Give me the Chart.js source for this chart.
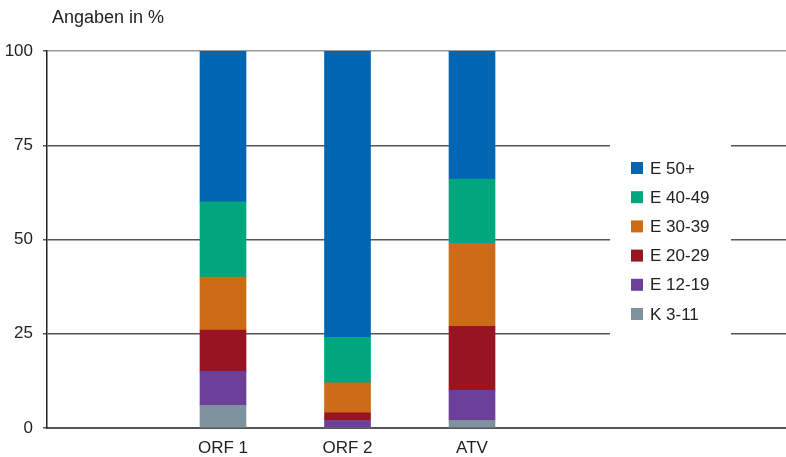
<!DOCTYPE html>
<html>
<head>
<meta charset="utf-8">
<script src="https://cdn.jsdelivr.net/npm/chart.js@4/dist/chart.umd.min.js"></script>
<style>
html,body{margin:0;padding:0;background:#fff;}
#wrap{width:786px;height:457px;position:relative;}
</style>
</head>
<body>
<div id="wrap"><canvas id="c" width="786" height="457"></canvas></div>
<script>
const categories = ['ORF 1', 'ORF 2', 'ATV'];
const seriesNames = ['K 3-11', 'E 12-19', 'E 20-29', 'E 30-39', 'E 40-49', 'E 50+'];
const seriesColors = ['#7f939e', '#6c3f99', '#981422', '#cc6c17', '#00a77e', '#0066b3'];
const k3_11   = [6, 0, 2];
const e12_19  = [9, 2, 8];
const e20_29  = [11, 2, 17];
const e30_39  = [14, 8, 22];
const e40_49  = [20, 12, 17];
const e50plus = [40, 76, 34];
const yTicks = [0, 25, 50, 75, 100];
const unitLabel = 'Angaben in %';

const seriesValues = [k3_11, e12_19, e20_29, e30_39, e40_49, e50plus];
const FONT = '"Liberation Sans", Arial, Helvetica, sans-serif';

const datasets = seriesNames.map((name, i) => ({
  label: name,
  data: seriesValues[i].map((v, j) => ({x: j + 1, y: v})),
  backgroundColor: seriesColors[i],
  borderWidth: 0,
  barThickness: 46
}));

const overlay = {
  id: 'overlay',
  afterDraw(chart) {
    const ctx = chart.ctx;
    ctx.save();
    ctx.fillStyle = '#222';
    ctx.font = '18px ' + FONT;
    ctx.textBaseline = 'alphabetic';
    ctx.textAlign = 'left';
    ctx.fillText(unitLabel, 52, 23);
    ctx.font = '17px ' + FONT;
    const y = chart.scales.y;
    const top = y.getPixelForValue(78);
    const bottom = y.getPixelForValue(22);
    ctx.fillStyle = '#fff';
    ctx.fillRect(610, top, 121, bottom - top);
    const n = seriesNames.length;
    for (let k = 0; k < n; k++) {
      const i = n - 1 - k;
      const cy = 168 + k * 29.2;
      ctx.fillStyle = seriesColors[i];
      ctx.fillRect(631, cy - 6, 12, 12);
      ctx.fillStyle = '#222';
      ctx.textBaseline = 'middle';
      ctx.fillText(seriesNames[i], 650, cy + 1);
    }
    ctx.restore();
  }
};

new Chart(document.getElementById('c'), {
  type: 'bar',
  data: { datasets },
  options: {
    responsive: false,
    animation: false,
    layout: { padding: { top: 51, right: 0, left: 0, bottom: 0 } },
    plugins: { legend: { display: false }, tooltip: { enabled: false }, title: { display: false } },
    scales: {
      x: {
        type: 'linear',
        stacked: true,
        offset: false,
        bounds: 'ticks',
        min: -0.4137,
        max: 5.522,
        afterFit(s) { s.height = 29; },
        afterBuildTicks(s) { s.ticks = categories.map((c, i) => ({ value: i + 1 })); },
        grid: { display: false, drawTicks: false, offset: false },
        border: { display: true, color: '#555', width: 2 },
        ticks: {
          autoSkip: false,
          maxRotation: 0,
          padding: 10,
          color: '#222',
          font: { family: FONT, size: 17 },
          callback: (v) => categories[v - 1] || ''
        }
      },
      y: {
        stacked: true,
        min: 0,
        max: 100,
        afterFit(s) { s.width = 47; },
        afterBuildTicks(s) { s.ticks = yTicks.map(v => ({ value: v })); },
        grid: {
          color: (c) => (c.tick && c.tick.value === 100) ? '#9a9a9a' : '#555',
          lineWidth: 1.5,
          tickLength: 4,
          tickColor: '#555',
          drawTicks: true
        },
        border: { display: true, color: '#222', width: 1.5 },
        ticks: {
          padding: 10,
          color: '#222',
          font: { family: FONT, size: 17 }
        }
      }
    }
  },
  plugins: [overlay]
});
</script>
</body>
</html>
